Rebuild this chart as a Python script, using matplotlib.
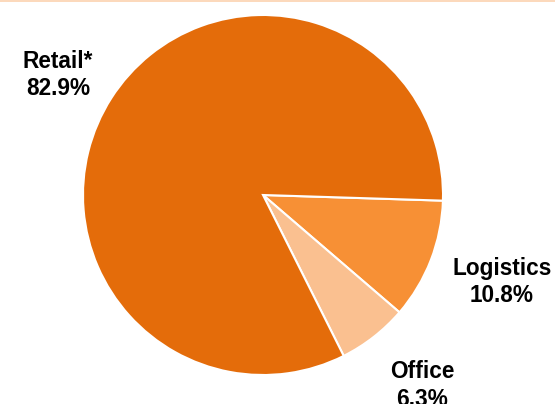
import matplotlib
matplotlib.use('Agg')
import matplotlib.pyplot as plt
from matplotlib.patches import Rectangle

# dati
kategorije = ['Logistics', 'Office', 'Retail*']
udeli = [10.8, 6.3, 82.9]
boje = ['#F79035', '#FAC090', '#E46C0A']

plt.rcParams['font.family'] = ['Liberation Sans', 'DejaVu Sans']

fig = plt.figure(figsize=(5.55, 4.04), dpi=100)
ax = fig.add_axes([0, 0, 1, 1])
ax.pie(udeli, colors=boje, startangle=-1.8, counterclock=False,
       radius=1.0, center=(0, 0),
       wedgeprops={'edgecolor': 'white', 'linewidth': 1.5})
ax.set_xlim(-263 / 180, (555 - 263) / 180)
ax.set_ylim(-(404 - 195) / 180, 195 / 180)
ax.set_aspect('auto')
ax.axis('off')

# pozicije natpisa (u jedinicama poluprecnika)
pozicije = [(1.328, -0.483), (0.883, -1.06), (-1.139, 0.667)]
for ime, u, (x, y) in zip(kategorije, udeli, pozicije):
    ax.text(x, y, f'{ime}\n{u}%', ha='center', va='center',
            fontsize=16.3, fontweight='bold', color='black', linespacing=1.27)

# tanka linija na vrhu
fig.add_artist(Rectangle((0, 1 - 2 / 404), 1, 2 / 404, transform=fig.transFigure,
                         facecolor='#FCD9BC', edgecolor='none'))

fig.savefig('out.png', dpi=100)
